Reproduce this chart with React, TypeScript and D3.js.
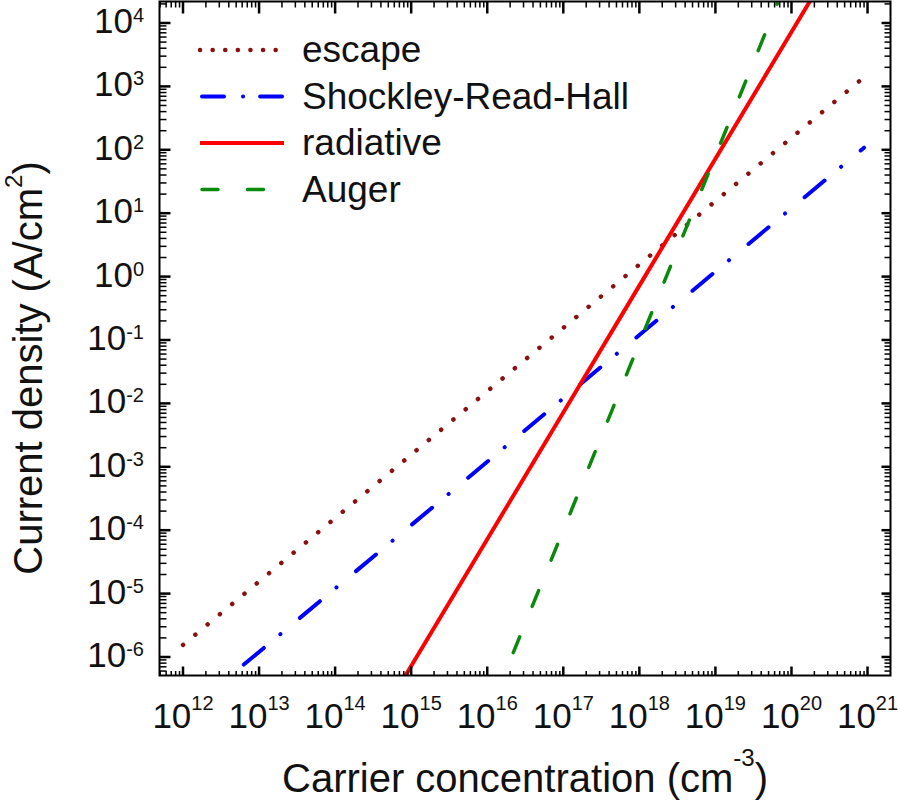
import React from "react";
import * as d3 from "d3";

// ---- data ----
const escapeN = [1e12, 1e13, 1e14, 1e15, 1e16, 1e17, 1e18, 1e19, 1e20, 8.5e20];
const escapeJ = [1.55e-6, 1.55e-5, 1.55e-4, 1.55e-3, 1.55e-2, 0.155, 1.55, 15.5, 155, 1320];

const srhN = [6.3e12, 1e13, 1e14, 1e15, 1e16, 1e17, 1e18, 1e19, 1e20, 9e20];
const srhJ = [7.6e-7, 1.2e-6, 1.2e-5, 1.2e-4, 1.2e-3, 1.2e-2, 0.12, 1.2, 12, 108];

const radN = [8e14, 1e15, 1e16, 1e17, 1e18, 1e19, 1e20, 2.2e20];
const radJ = [4.6e-7, 7.2e-7, 7.2e-5, 7.2e-3, 0.72, 72, 7200, 3.5e4];

const augN = [2.2e16, 1e17, 1e18, 1e19, 1e20];
const augJ = [1.17e-6, 1.0e-4, 0.09, 80, 7.2e4];

const xTickExps = [12, 13, 14, 15, 16, 17, 18, 19, 20, 21];
const yTickExps = [4, 3, 2, 1, 0, -1, -2, -3, -4, -5, -6];

const legendLabels = ["escape", "Shockley-Read-Hall", "radiative", "Auger"];

const xDomainExp = [11.691, 21.302];
const yDomainExp = [-6.292, 4.339];

const FONT = "'Liberation Sans', Arial, Helvetica, sans-serif";

export default function App() {
  const L = 159.5, R = 890.5, T = 1.5, B = 675.5;
  const x = d3.scaleLog().domain([10 ** xDomainExp[0], 10 ** xDomainExp[1]]).range([L, R]);
  const y = d3.scaleLog().domain([10 ** yDomainExp[0], 10 ** yDomainExp[1]]).range([B, T]);

  const line = d3
    .line<[number, number]>()
    .x((d) => x(d[0]))
    .y((d) => y(d[1]));

  const zip = (a: number[], b: number[]) => a.map((v, i) => [v, b[i]] as [number, number]);

  // minor ticks
  const xMinor: number[] = [];
  for (let e = 11; e <= 21; e++) for (let k = 2; k <= 9; k++) {
    const v = k * 10 ** e;
    const px = x(v);
    if (px > L + 0.5 && px < R - 0.5) xMinor.push(v);
  }
  const yMinor: number[] = [];
  for (let e = -7; e <= 4; e++) for (let k = 2; k <= 9; k++) {
    const v = k * 10 ** e;
    const py = y(v);
    if (py > T + 0.5 && py < B - 0.5) yMinor.push(v);
  }

  const series = [
    { d: zip(escapeN, escapeJ), color: "#8b1010", w: 4.5, dash: "0.1 15.9", cap: "round", ldash: "0.1 12.5", lx: [200, 276] },
    { d: zip(srhN, srhJ), color: "#0000ff", w: 4, dash: "26 21.5 0.1 25.4", cap: "round", ldash: "22 19 0.1 17", lx: [202, 282] },
    { d: zip(radN, radJ), color: "#ff0000", w: 4, dash: "none", cap: "butt", ldash: "none", lx: [200, 284] },
    { d: zip(augN, augJ), color: "#0a8a0a", w: 3.5, dash: "17 33", cap: "round", ldash: "16 29.5", lx: [202, 263.5] },
  ];

  const legendBase = 62;
  const legendStep = 46.5;

  return (
    <svg
      width={900}
      height={802}
      style={{ position: "absolute", left: 0, top: 0, display: "block", background: "#fff" }}
      fontFamily={FONT}
    >
      <defs>
        <clipPath id="plotClip">
          <rect x={L} y={T} width={R - L} height={B - T} />
        </clipPath>
      </defs>

      {/* series */}
      <g clipPath="url(#plotClip)">
        {series.map((s, i) => (
          <path
            key={i}
            d={line(s.d) || ""}
            fill="none"
            stroke={s.color}
            strokeWidth={s.w}
            strokeDasharray={s.dash}
            strokeLinecap={s.cap as any}
          />
        ))}
      </g>

      {/* frame */}
      <rect x={L} y={T} width={R - L} height={B - T} fill="none" stroke="#000" strokeWidth={2} />

      {/* x ticks bottom & top */}
      {xTickExps.map((e) => {
        const px = x(10 ** e);
        return (
          <g key={"xt" + e}>
            <line x1={px} x2={px} y1={B} y2={B - 9} stroke="#000" strokeWidth={2.5} />
            <line x1={px} x2={px} y1={T} y2={T + 12} stroke="#000" strokeWidth={2.5} />
          </g>
        );
      })}
      {xMinor.map((v, i) => {
        const px = x(v);
        return (
          <g key={"xm" + i}>
            <line x1={px} x2={px} y1={B} y2={B - 4.5} stroke="#000" strokeWidth={1.5} />
            <line x1={px} x2={px} y1={T} y2={T + 6} stroke="#000" strokeWidth={1.5} />
          </g>
        );
      })}

      {/* y ticks left & right */}
      {yTickExps.map((e) => {
        const py = y(10 ** e);
        return (
          <g key={"yt" + e}>
            <line x1={L} x2={L + 11} y1={py} y2={py} stroke="#000" strokeWidth={2.5} />
            <line x1={R} x2={R - 9} y1={py} y2={py} stroke="#000" strokeWidth={2.5} />
          </g>
        );
      })}
      {yMinor.map((v, i) => {
        const py = y(v);
        return (
          <g key={"ym" + i}>
            <line x1={L} x2={L + 7} y1={py} y2={py} stroke="#000" strokeWidth={1.5} />
            <line x1={R} x2={R - 6} y1={py} y2={py} stroke="#000" strokeWidth={1.5} />
          </g>
        );
      })}

      {/* x tick labels */}
      {xTickExps.map((e) => (
        <text key={"xl" + e} x={x(10 ** e)} y={728} textAnchor="middle" fontSize={35} fill="#111">
          10
          <tspan dy={-18} fontSize={20}>{String(e)}</tspan>
        </text>
      ))}

      {/* y tick labels */}
      {yTickExps.map((e) => (
        <text key={"yl" + e} x={144} y={y(10 ** e) + 10} textAnchor="end" fontSize={35} fill="#111">
          10
          <tspan dy={-11} fontSize={20}>{String(e)}</tspan>
        </text>
      ))}

      {/* axis titles */}
      <text x={525} y={792} textAnchor="middle" fontSize={40} fill="#111">
        Carrier concentration (cm
        <tspan dy={-26} fontSize={24}>-3</tspan>
        <tspan dy={26}>)</tspan>
      </text>
      <text transform="translate(42,368) rotate(-90)" textAnchor="middle" fontSize={40} fill="#111">
        Current density (A/cm
        <tspan dy={-20} fontSize={24}>2</tspan>
        <tspan dy={20}>)</tspan>
      </text>

      {/* legend */}
      {series.map((s, i) => {
        const ly = legendBase + i * legendStep - 12;
        return (
          <g key={"lg" + i}>
            <line
              x1={s.lx[0]}
              x2={s.lx[1]}
              y1={ly}
              y2={ly}
              stroke={s.color}
              strokeWidth={s.w}
              strokeDasharray={s.ldash}
              strokeLinecap={s.cap as any}
            />
            <text x={302} y={legendBase + i * legendStep} fontSize={37} fill="#111">
              {legendLabels[i]}
            </text>
          </g>
        );
      })}
    </svg>
  );
}
